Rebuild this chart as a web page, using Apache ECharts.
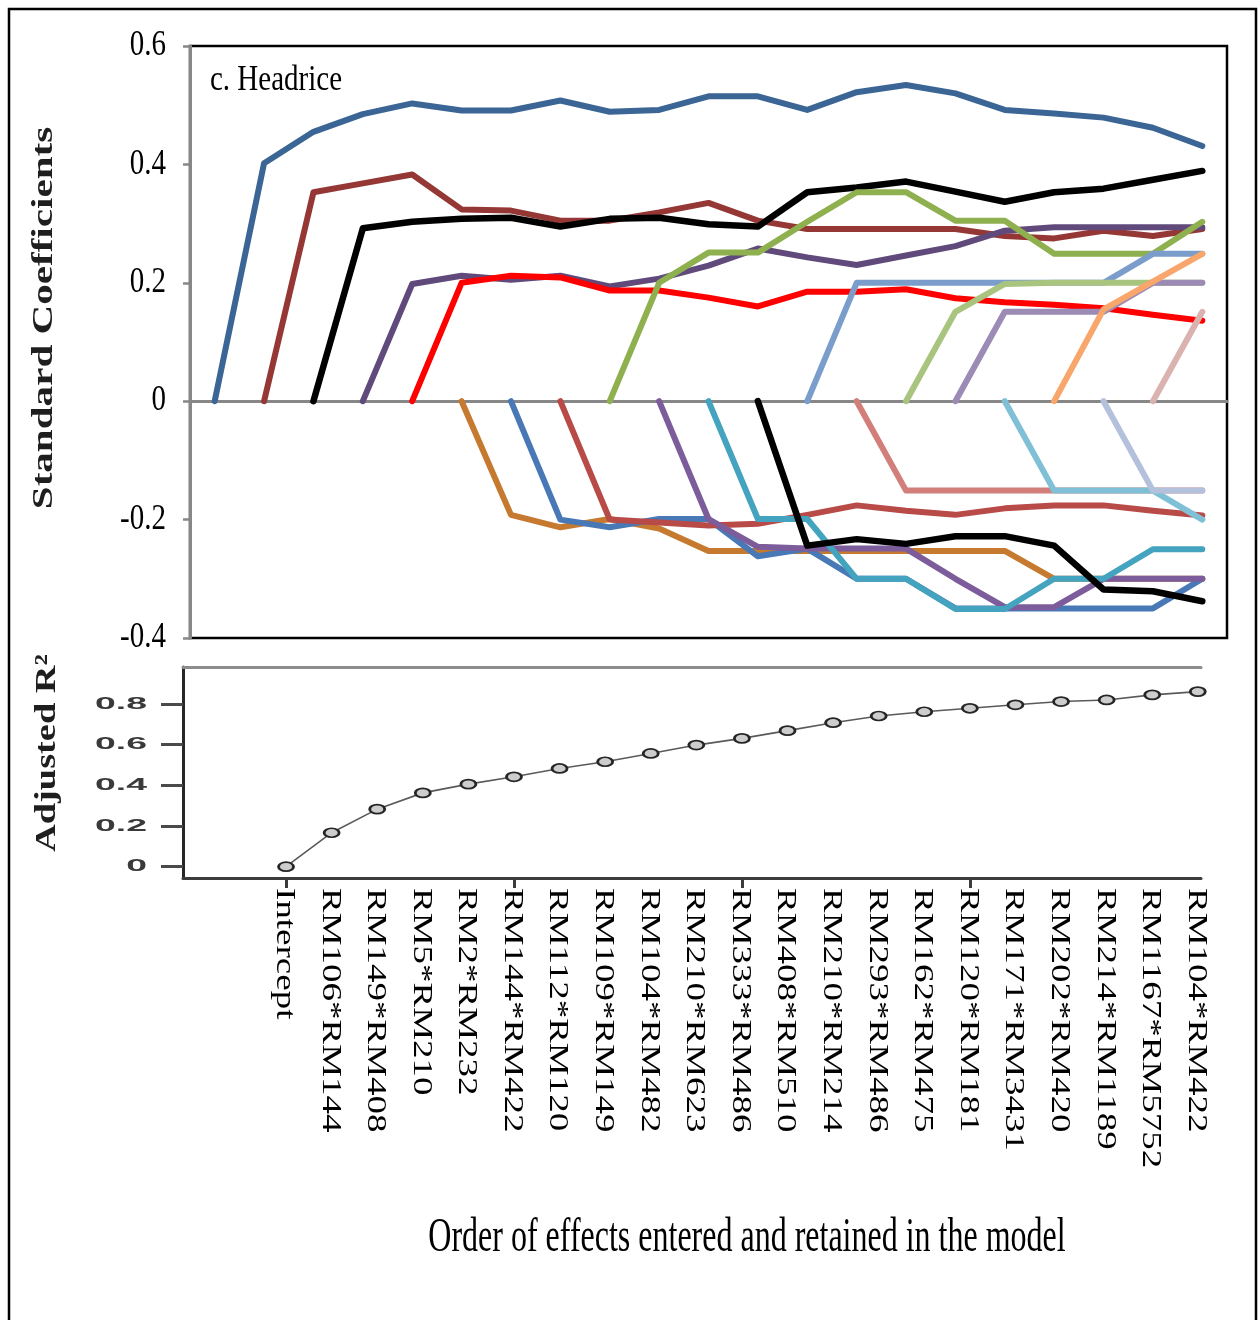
<!DOCTYPE html>
<html>
<head>
<meta charset="utf-8">
<title>c. Headrice</title>
<script src="https://cdn.jsdelivr.net/npm/echarts@6/dist/echarts.min.js"></script>
<style>
  html, body { margin: 0; padding: 0; background: #fff; }
  #chart { width: 1260px; height: 1320px; }
</style>
</head>
<body>
<div id="chart"></div>
<script>
// Order in which effects entered the model (first step is the intercept)
const steps = [
  'Intercept', 'RM106*RM144', 'RM149*RM408', 'RM5*RM210', 'RM2*RM232',
  'RM144*RM422', 'RM112*RM120', 'RM109*RM149', 'RM104*RM482', 'RM210*RM623',
  'RM333*RM486', 'RM408*RM510', 'RM210*RM214', 'RM293*RM486', 'RM162*RM475',
  'RM120*RM181', 'RM171*RM3431', 'RM202*RM420', 'RM214*RM1189', 'RM1167*RM5752',
  'RM104*RM422'
];

const coefTicks = [-0.4, -0.2, 0, 0.2, 0.4, 0.6];
const coefTickLabels = ['-0.4', '-0.2', '0', '0.2', '0.4', '0.6'];
const r2Ticks = [0, 0.2, 0.4, 0.6, 0.8];
const r2TickLabels = ['0', '0.2', '0.4', '0.6', '0.8'];
const r2TickSteps = [0, 5, 10, 15];

// Adjusted R-squared after each step
const adjR2 = [0, 0.167, 0.283, 0.363, 0.406, 0.442, 0.483, 0.516, 0.557, 0.598,
  0.631, 0.669, 0.708, 0.741, 0.762, 0.779, 0.796, 0.812, 0.820, 0.845, 0.861];

// Standardised coefficient path of each effect across the steps
const rm106_rm144 = [0, 0.402, 0.455, 0.485, 0.503, 0.491, 0.491, 0.508, 0.489, 0.492, 0.515, 0.515, 0.492, 0.522, 0.534, 0.520, 0.492, 0.486, 0.479, 0.462, 0.431];
const rm149_rm408 = [null, 0, 0.353, 0.368, 0.383, 0.324, 0.322, 0.305, 0.305, 0.319, 0.335, 0.305, 0.291, 0.291, 0.291, 0.291, 0.279, 0.275, 0.288, 0.279, 0.291];
const rm5_rm210 = [null, null, 0, 0.292, 0.303, 0.308, 0.310, 0.295, 0.308, 0.310, 0.299, 0.295, 0.353, 0.361, 0.371, 0.354, 0.337, 0.353, 0.359, 0.374, 0.389];
const rm2_rm232 = [null, null, null, 0, 0.198, 0.212, 0.205, 0.212, 0.194, 0.207, 0.229, 0.258, 0.243, 0.230, 0.246, 0.262, 0.288, 0.294, 0.294, 0.294, 0.294];
const rm144_rm422 = [null, null, null, null, 0, 0.200, 0.212, 0.209, 0.187, 0.187, 0.175, 0.160, 0.185, 0.185, 0.189, 0.174, 0.167, 0.163, 0.157, 0.146, 0.136];
const rm112_rm120 = [null, null, null, null, null, 0, -0.192, -0.213, -0.199, -0.215, -0.253, -0.253, -0.253, -0.253, -0.253, -0.253, -0.253, -0.300, -0.300, -0.300, -0.300];
const rm109_rm149 = [null, null, null, null, null, null, 0, -0.200, -0.213, -0.199, -0.199, -0.262, -0.249, -0.300, -0.300, -0.350, -0.350, -0.350, -0.350, -0.350, -0.300];
const rm104_rm482 = [null, null, null, null, null, null, null, 0, -0.200, -0.205, -0.210, -0.207, -0.192, -0.176, -0.185, -0.192, -0.181, -0.176, -0.176, -0.185, -0.193];
const rm210_rm623 = [null, null, null, null, null, null, null, null, 0, 0.200, 0.251, 0.251, 0.303, 0.353, 0.353, 0.305, 0.305, 0.249, 0.249, 0.249, 0.303];
const rm333_rm486 = [null, null, null, null, null, null, null, null, null, 0, -0.199, -0.246, -0.249, -0.249, -0.249, -0.300, -0.348, -0.348, -0.300, -0.300, -0.300];
const rm408_rm510 = [null, null, null, null, null, null, null, null, null, null, 0, -0.199, -0.199, -0.300, -0.300, -0.351, -0.351, -0.300, -0.300, -0.250, -0.250];
const rm210_rm214 = [null, null, null, null, null, null, null, null, null, null, null, 0, -0.244, -0.233, -0.241, -0.228, -0.228, -0.244, -0.318, -0.321, -0.338];
const rm293_rm486 = [null, null, null, null, null, null, null, null, null, null, null, null, 0, 0.200, 0.200, 0.200, 0.200, 0.200, 0.200, 0.249, 0.249];
const rm162_rm475 = [null, null, null, null, null, null, null, null, null, null, null, null, null, 0, -0.151, -0.151, -0.151, -0.151, -0.151, -0.151, -0.151];
const rm120_rm181 = [null, null, null, null, null, null, null, null, null, null, null, null, null, null, 0, 0.151, 0.198, 0.200, 0.200, 0.200, 0.200];
const rm171_rm3431 = [null, null, null, null, null, null, null, null, null, null, null, null, null, null, null, 0, 0.151, 0.151, 0.151, 0.200, 0.200];
const rm202_rm420 = [null, null, null, null, null, null, null, null, null, null, null, null, null, null, null, null, 0, -0.151, -0.151, -0.151, -0.200];
const rm214_rm1189 = [null, null, null, null, null, null, null, null, null, null, null, null, null, null, null, null, null, 0, 0.155, 0.202, 0.249];
const rm1167_rm5752 = [null, null, null, null, null, null, null, null, null, null, null, null, null, null, null, null, null, null, 0, -0.151, -0.151];
const rm104_rm422 = [null, null, null, null, null, null, null, null, null, null, null, null, null, null, null, null, null, null, null, 0, 0.151];

const effectPaths = [
  rm106_rm144, rm149_rm408, rm5_rm210, rm2_rm232, rm144_rm422,
  rm112_rm120, rm109_rm149, rm104_rm482, rm210_rm623, rm333_rm486,
  rm408_rm510, rm210_rm214, rm293_rm486, rm162_rm475, rm120_rm181,
  rm171_rm3431, rm202_rm420, rm214_rm1189, rm1167_rm5752, rm104_rm422
];

const lineColors = [
  '#3A6595', '#953735', '#000000', '#604A7B', '#FF0000',
  '#C57A30', '#4879B6', '#B84A47', '#8EB04E', '#7C5C9A',
  '#44A3BE', '#000000', '#7B9DCC', '#D27F7C', '#A9C47E',
  '#9B8BB5', '#7FC0D6', '#F8A66C', '#B3C1DC', '#DAB2AF'
];

const serif = '"Liberation Serif", "Times New Roman", serif';
const sans = '"Liberation Sans", Arial, sans-serif';

const chart = echarts.init(document.getElementById('chart'));

const coefSeries = effectPaths.map((path, k) => ({
  name: steps[k + 1],
  type: 'line',
  xAxisIndex: 0,
  yAxisIndex: 0,
  data: path,
  symbol: 'none',
  connectNulls: false,
  silent: true,
  z: 3,
  lineStyle: {
    color: lineColors[k],
    width: lineColors[k] === '#000000' ? 6.5 : 6,
    cap: 'round',
    join: 'round'
  },
  emphasis: { disabled: true }
}));

const r2Series = {
  name: 'Adjusted R²',
  type: 'line',
  xAxisIndex: 1,
  yAxisIndex: 1,
  data: adjR2.map((v, i) => [i, v]),
  symbol: 'circle',
  symbolSize: [15, 9],
  showSymbol: true,
  silent: true,
  z: 3,
  lineStyle: { color: '#5a5a5a', width: 1.6 },
  itemStyle: { color: '#cdcdcd', borderColor: '#262626', borderWidth: 2.2 },
  emphasis: { disabled: true }
};

chart.setOption({
  animation: false,
  backgroundColor: '#fff',
  grid: [
    { left: 190, top: 46, width: 1037, height: 592, show: true, borderColor: '#000', borderWidth: 2.5, backgroundColor: 'transparent' },
    { left: 183, top: 667, width: 1018, height: 211, show: false }
  ],
  xAxis: [
    {
      type: 'category', gridIndex: 0, data: steps, boundaryGap: true,
      axisLine: { onZero: true, lineStyle: { color: '#878787', width: 3 } },
      axisTick: { show: false }, axisLabel: { show: false }, splitLine: { show: false }
    },
    {
      type: 'value', gridIndex: 1, min: -2.26, max: 20.07, position: 'bottom',
      axisLine: { onZero: false, lineStyle: { color: '#3c3c3c', width: 3 } },
      axisTick: { show: true, customValues: r2TickSteps, length: 10, lineStyle: { color: '#3c3c3c', width: 3 } },
      axisLabel: { show: false }, splitLine: { show: false }
    },
    {
      type: 'value', gridIndex: 1, min: -2.26, max: 20.07, position: 'top',
      axisLine: { onZero: false, lineStyle: { color: '#8c8c8c', width: 3 } },
      axisTick: { show: false }, axisLabel: { show: false }, splitLine: { show: false }
    }
  ],
  yAxis: [
    {
      type: 'value', gridIndex: 0, min: coefTicks[0], max: coefTicks[coefTicks.length - 1], interval: 0.2,
      axisLine: { show: true, lineStyle: { color: '#878787', width: 3 } },
      axisTick: { show: true, length: 7, lineStyle: { color: '#878787', width: 2.5 } },
      axisLabel: { show: false },
      splitLine: { show: false }
    },
    {
      type: 'value', gridIndex: 1, min: -0.0556, max: 0.982,
      axisLine: { show: true, onZero: false, lineStyle: { color: '#262626', width: 3 } },
      axisTick: { show: true, customValues: r2Ticks, length: 22, lineStyle: { color: '#4a4a4a', width: 3 } },
      axisLabel: { show: false },
      splitLine: { show: false }
    }
  ],
  series: coefSeries.concat([r2Series])
});

// Text elements placed through the axes' own pixel mapping
const graphics = [];

graphics.push({
  type: 'rect', silent: true, z: 0,
  shape: { x: 9, y: 9, width: 1247, height: 1340 },
  style: { fill: 'none', stroke: '#000', lineWidth: 2.5 }
});

graphics.push({
  type: 'text', x: 210, y: 63, scaleY: 1.2, silent: true,
  style: { text: 'c. Headrice', font: '29px ' + serif, fill: '#000', textAlign: 'left', textVerticalAlign: 'top' }
});

coefTicks.forEach((v, i) => {
  const py = chart.convertToPixel({ yAxisIndex: 0 }, v);
  graphics.push({
    type: 'text', x: 166, y: py, scaleY: 1.22, silent: true,
    style: {
      text: coefTickLabels[i], font: '29px ' + serif, fill: '#000',
      textAlign: 'right', textVerticalAlign: 'middle'
    }
  });
});

graphics.push({
  type: 'text', x: 44, y: 318, rotation: Math.PI / 2, scaleX: 1.37, silent: true,
  style: {
    text: 'Standard Coefficients', font: 'bold 30px ' + serif, fill: '#1e1e1e',
    textAlign: 'center', textVerticalAlign: 'middle',
    shadowBlur: 3, shadowColor: 'rgba(0,0,0,0.45)'
  }
});

graphics.push({
  type: 'text', x: 47, y: 753, rotation: Math.PI / 2, scaleX: 1.28, silent: true,
  style: {
    text: 'Adjusted R²', font: 'bold 30px ' + serif, fill: '#1e1e1e',
    textAlign: 'center', textVerticalAlign: 'middle',
    shadowBlur: 3, shadowColor: 'rgba(0,0,0,0.45)'
  }
});

graphics.push({
  type: 'text', x: 747, y: 1238, scaleY: 1.5, silent: true,
  style: {
    text: 'Order of effects entered and retained in the model', font: '32px ' + serif,
    fill: '#000', textAlign: 'center', textVerticalAlign: 'middle'
  }
});

r2Ticks.forEach((v, i) => {
  const py = chart.convertToPixel({ yAxisIndex: 1 }, v);
  graphics.push({
    type: 'text', x: 147, y: py, scaleX: 2.2, silent: true,
    style: {
      text: r2TickLabels[i], font: 'bold 17px ' + sans, fill: '#3a3a3a',
      textAlign: 'right', textVerticalAlign: 'middle',
      shadowBlur: 2, shadowColor: 'rgba(0,0,0,0.4)'
    }
  });
});

steps.forEach((s, i) => {
  const px = chart.convertToPixel({ xAxisIndex: 1 }, i);
  graphics.push({
    type: 'text', x: px - 2, y: 888, rotation: -Math.PI / 2, scaleX: 1.37, silent: true,
    style: { text: s, font: '27px ' + serif, fill: '#000', textAlign: 'left', textVerticalAlign: 'middle' }
  });
});

chart.setOption({ graphic: graphics });
</script>
</body>
</html>
